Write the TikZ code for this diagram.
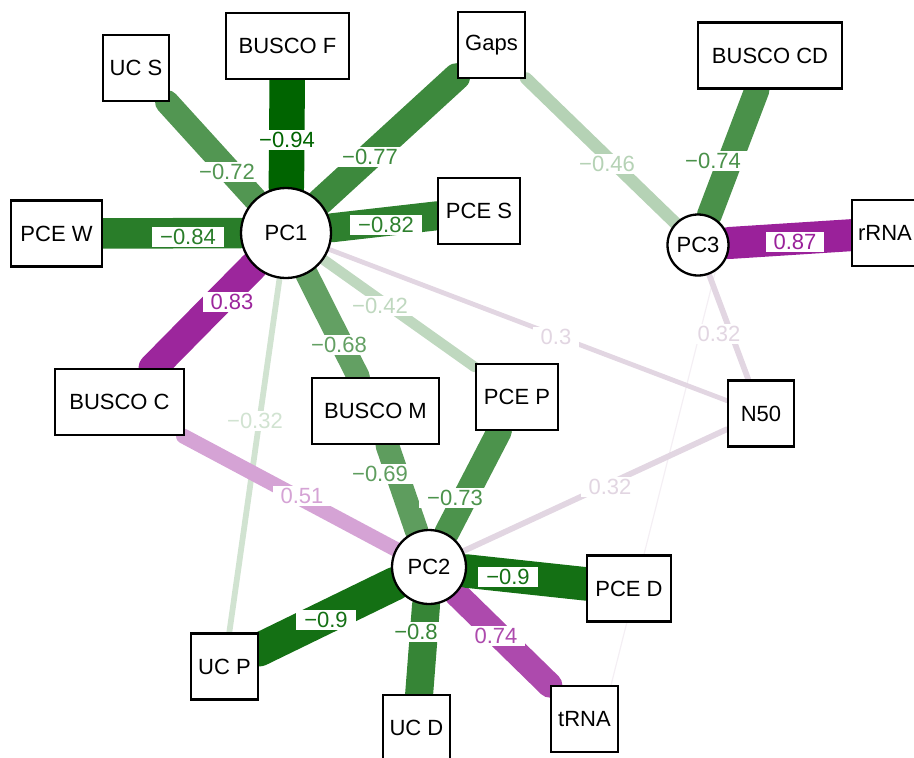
\documentclass[tikz,border=0pt]{standalone}
\usepackage{fontspec}
\setmainfont{Liberation Sans}
\usetikzlibrary{backgrounds}
\definecolor{gbase}{RGB}{0,100,0}
\definecolor{pbase}{RGB}{139,0,139}
\definecolor{plight}{RGB}{226,214,226}
\definecolor{pfaint}{RGB}{244,239,244}
\begin{document}
\begin{tikzpicture}[x=1pt,y=-1pt,
  box/.style={draw=black, line width=2.3pt, fill=white, rectangle, minimum height=66pt, inner sep=0pt, font=\fontsize{22}{26}\selectfont},
  pc/.style={draw=black, circle, line width=2.3pt, fill=white, inner sep=0pt, font=\fontsize{22}{26}\selectfont},
  lab/.style={fill=white, inner xsep=8pt, inner ysep=2.5pt, font=\fontsize{22}{26}\selectfont},
  ln/.style={line cap=round}]
\useasboundingbox (0,0) rectangle (914,758);
% nodes
\node[box, minimum width=66pt] (UCS) at (136,68) {UC S};
\node[box, minimum width=123pt] (BF) at (287.5,46) {BUSCO F};
\node[box, minimum width=67pt] (Gaps) at (491.5,45) {Gaps};
\node[box, minimum width=144pt] (BCD) at (770,55.5) {BUSCO CD};
\node[box, minimum width=91pt] (PCEW) at (56.5,233.5) {PCE W};
\node[pc, minimum size=90pt] (PC1) at (286,233) {PC1};
\node[box, minimum width=82pt] (PCES) at (479,211) {PCE S};
\node[pc, minimum size=61pt] (PC3) at (698,245) {PC3};
\node[box, minimum width=66pt] (rRNA) at (885,233) {rRNA};
\node[box, minimum width=129pt] (BC) at (119.5,402) {BUSCO C};
\node[box, minimum width=127pt] (BM) at (375.5,411) {BUSCO M};
\node[box, minimum width=82pt] (PCEP) at (517,397) {PCE P};
\node[box, minimum width=66pt] (N50) at (761,413.5) {N50};
\node[pc, minimum size=74pt] (PC2) at (429,567) {PC2};
\node[box, minimum width=84pt] (PCED) at (629,588.5) {PCE D};
\node[box, minimum width=67pt] (UCP) at (224.5,666.5) {UC P};
\node[box, minimum width=67pt] (UCD) at (416.5,728) {UC D};
\node[box, minimum width=67pt] (tRNA) at (584.5,719) {tRNA};
\begin{scope}[on background layer]
% edges, weakest first
\draw[ln, line width=1.2pt, pfaint] ([xshift=18pt]tRNA.center) -- ([xshift=24pt]PC3.center);
\draw[ln, line width=4.8pt, plight] (PC1) -- (N50);
\draw[ln, line width=5.8pt, gbase!18!white] (PC1) -- (UCP);
\draw[ln, line width=5.8pt, plight] (PC2) -- (N50);
\draw[ln, line width=5.8pt, plight] (PC3) -- (N50);
\draw[ln, line width=10.5pt, gbase!25!white] (PC1) -- (PCEP);
\draw[ln, line width=12.5pt, gbase!29!white] (PC3) -- (Gaps);
\draw[ln, line width=15pt, pbase!36!white] (PC2) -- (BC);
\draw[ln, line width=23pt, gbase!61!white] (PC1) -- (BM);
\draw[ln, line width=23.5pt, gbase!63!white] (PC2) -- (BM);
\draw[ln, line width=24pt, gbase!68!white] (PC1) -- (UCS);
\draw[ln, line width=25pt, gbase!70!white] (PC2) -- (PCEP);
\draw[ln, line width=25pt, gbase!71!white] (PC3) -- (BCD);
\draw[ln, line width=25pt, pbase!71!white] (PC2) -- (tRNA);
\draw[ln, line width=27pt, gbase!76!white] (PC1) -- (Gaps);
\draw[ln, line width=28pt, gbase!79!white] (PC2) -- (UCD);
\draw[ln, line width=29pt, gbase!82!white] (PC1) -- (PCES);
\draw[ln, line width=29pt, pbase!85!white] (PC1) -- (BC);
\draw[ln, line width=30.5pt, gbase!84!white] (PC1) -- (PCEW);
\draw[ln, line width=32pt, pbase!87!white] (PC3) -- (rRNA);
\draw[ln, line width=33.5pt, gbase!92!white] (PC2) -- (PCED);
\draw[ln, line width=33.5pt, gbase!92!white] (PC2) -- (UCP);
\draw[ln, line width=35.5pt, gbase] (PC1) -- (BF);
% labels
\node[lab, text=plight] (l1) at (556,337) {0.3};
\node[lab, text=gbase!18!white] (l2) at (255,421) {−0.32};
\node[lab, text=plight] (l3) at (610,487) {0.32};
\node[lab, text=plight] (l4) at (719,334) {0.32};
\node[lab, text=gbase!25!white] (l5) at (380,306) {−0.42};
\node[lab, text=gbase!29!white] (l6) at (607,164) {−0.46};
\node[lab, text=pbase!36!white] (l7) at (302,496) {0.51};
\node[lab, text=gbase!61!white] (l8) at (339,345) {−0.68};
\node[lab, text=gbase!63!white] (l9) at (380,474) {−0.69};
\node[lab, text=gbase!68!white] (l10) at (227,172) {−0.72};
\node[lab, text=gbase!70!white] (l11) at (455,498) {−0.73};
\node[lab, text=gbase!71!white] (l12) at (713,161) {−0.74};
\node[lab, text=pbase!71!white] (l13) at (496,636) {0.74};
\node[lab, text=gbase!76!white] (l14) at (370,157) {−0.77};
\node[lab, text=gbase!79!white] (l15) at (416,632) {−0.8};
\node[lab, text=gbase!82!white] (l16) at (386,225) {−0.82};
\node[lab, text=pbase!85!white] (l17) at (232,302) {0.83};
\node[lab, text=gbase!84!white] (l18) at (188,237) {−0.84};
\node[lab, text=pbase!87!white] (l19) at (795,242) {0.87};
\node[lab, text=gbase!92!white] (l20) at (508,577) {−0.9};
\node[lab, text=gbase!92!white] (l21) at (326,620) {−0.9};
\node[lab, text=gbase] (l22) at (287,140) {−0.94};
\end{scope}
\end{tikzpicture}
\end{document}
